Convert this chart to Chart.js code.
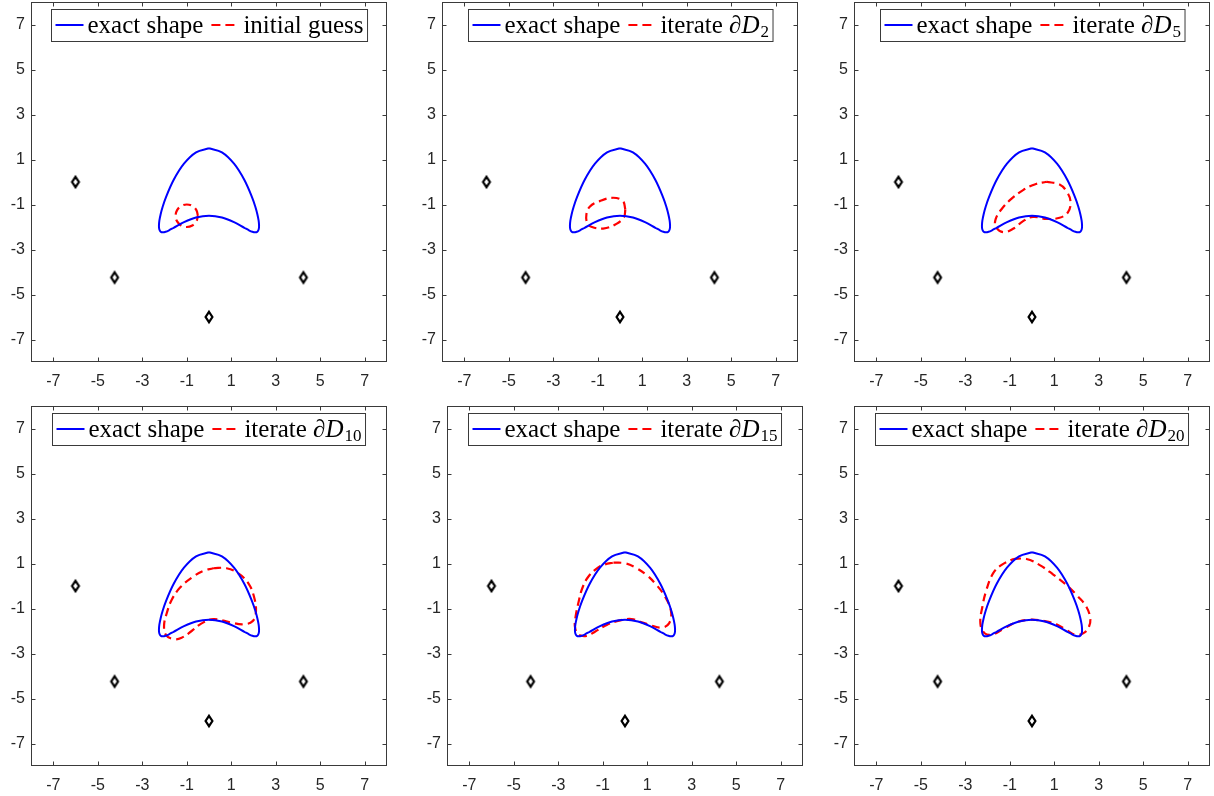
<!DOCTYPE html>
<html>
<head>
<meta charset="utf-8">
<script src="https://cdn.jsdelivr.net/npm/chart.js@4.4.0/dist/chart.umd.min.js"></script>
<style>
  html, body { margin: 0; padding: 0; background: #fff; }
  #wrap { position: relative; width: 1214px; height: 796px; overflow: hidden; background: #fff; }
  #wrap canvas { position: absolute; }
</style>
</head>
<body>
<div id="wrap"></div>
<script>
// tick labels (both axes)
const tickVals = [-7, -5, -3, -1, 1, 3, 5, 7];

// exact shape (blue)
const exactX = [0, 0.582, 1.125, 1.591, 1.949, 2.079, 2.173, 2.231, 2.25, 2.231, 2.173, 2.079, 1.949, 1.785, 1.591, 1.125, 0.582, 0,
  -0.582, -1.125, -1.591, -1.785, -1.949, -2.079, -2.173, -2.231, -2.25, -2.231, -2.173, -2.079, -1.949, -1.591, -1.125, -0.582, 0];
const exactY = [1.5, 1.318, 0.812, 0.086, -0.713, -1.090, -1.431, -1.721, -1.95, -2.113, -2.208, -2.238, -2.213, -2.141, -2.036, -1.787, -1.580, -1.5,
  -1.580, -1.787, -2.036, -2.141, -2.213, -2.238, -2.208, -2.113, -1.95, -1.721, -1.431, -1.090, -0.713, 0.086, 0.812, 1.318, 1.5];

// source points (black diamonds)
const sourceX = [-6, -4.243, 0, 4.243];
const sourceY = [0, -4.243, -6, -4.243];

// red dashed iterates
const guessX = [-0.5, -0.567, -0.75, -1, -1.25, -1.433, -1.5, -1.433, -1.25, -1, -0.75, -0.567];
const guessY = [-1.5, -1.25, -1.067, -1, -1.067, -1.25, -1.5, -1.75, -1.933, -2, -1.933, -1.75];

const d2X = [0.24, 0.13, -0.31, -0.91, -1.36, -1.51, -1.47, -1.29, -0.76, -0.16, 0.18];
const d2Y = [-1.22, -0.85, -0.70, -0.85, -1.10, -1.44, -1.84, -1.99, -2.07, -1.86, -1.55];

const d5X = [0.65, 1.24, 1.55, 1.73, 1.62, 1.24, 0.65, 0.04, -0.40, -0.85, -1.30, -1.63, -1.63, -1.38, -0.93, -0.40, 0.12];
const d5Y = [0.01, -0.11, -0.41, -0.85, -1.34, -1.59, -1.64, -1.55, -1.74, -2.08, -2.23, -1.99, -1.64, -1.22, -0.75, -0.36, -0.11];

const d10X = [0.19, 0.79, 1.32, 1.77, 2.02, 2.11, 1.96, 1.54, 0.94, 0.19, -0.33, -0.78, -1.23, -1.60, -1.93, -2.02, -1.90, -1.68, -1.30, -0.78, -0.26];
const d10Y = [0.79, 0.79, 0.56, 0.12, -0.47, -1.14, -1.56, -1.70, -1.61, -1.47, -1.66, -2.00, -2.30, -2.36, -2.18, -1.76, -1.21, -0.62, -0.07, 0.37, 0.67];

const d15X = [-0.52, 0, 0.45, 0.97, 1.42, 1.80, 2.07, 1.98, 1.65, 1.20, 0.75, 0.30, -0.22, -0.82, -1.35, -1.72, -2.10, -2.25, -2.22, -2.10, -1.92, -1.65, -1.20, -0.90];
const d15Y = [1.04, 1.01, 0.83, 0.49, 0.04, -0.47, -1.14, -1.66, -1.85, -1.76, -1.61, -1.47, -1.53, -1.73, -2.03, -2.22, -2.15, -1.81, -1.36, -0.77, -0.10, 0.41, 0.83, 0.96];

const d20X = [-0.85, -0.25, 0.35, 0.94, 1.55, 2.07, 2.44, 2.62, 2.56, 2.37, 2.00, 1.55, 1.10, 0.57, -0.10, -0.70, -1.30, -1.75, -2.13, -2.32, -2.23, -2.05, -1.75, -1.38];
const d20Y = [1.20, 1.20, 0.93, 0.52, 0.04, -0.47, -0.92, -1.44, -1.81, -2.06, -2.18, -1.96, -1.70, -1.56, -1.50, -1.61, -1.91, -2.15, -2.10, -1.66, -0.92, -0.18, 0.56, 0.93];

// legend text per panel
const iterNames = ['initial guess', 'iterate', 'iterate', 'iterate', 'iterate', 'iterate'];
const iterSubs = ['', '2', '5', '10', '15', '20'];

const AX_W = 30, AX_H = 34, PAD_T = 2, PAD_R = 3;
const FRAME_W = 356, FRAME_H = 360;

const toPts = (xs, ys) => xs.map((x, i) => ({ x: x, y: ys[i] }));
const closed = (xs, ys) => { const p = toPts(xs, ys); p.push(p[0]); return p; };

const diamond = (() => {
  const c = document.createElement('canvas');
  c.width = 14; c.height = 18;
  const g = c.getContext('2d');
  g.strokeStyle = '#000'; g.lineWidth = 2.2; g.lineJoin = 'miter';
  g.beginPath();
  g.moveTo(7, 3.8); g.lineTo(10.4, 9); g.lineTo(7, 14.2); g.lineTo(3.6, 9); g.closePath();
  g.stroke();
  return c;
})();

const framePlugin = {
  id: 'mframe',
  afterDatasetsDraw(chart) {
    const ctx = chart.ctx, a = chart.chartArea, xs = chart.scales.x, ys = chart.scales.y;
    const L = Math.round(a.left) + 0.5, R = Math.round(a.right) - 0.5;
    const T = Math.round(a.top) + 0.5, B = Math.round(a.bottom) - 0.5;
    ctx.save();
    ctx.strokeStyle = '#3a3a3a'; ctx.lineWidth = 1;
    ctx.strokeRect(L, T, R - L, B - T);
    ctx.beginPath();
    tickVals.forEach(v => {
      const px = Math.round(xs.getPixelForValue(v)) + 0.5;
      ctx.moveTo(px, B); ctx.lineTo(px, B - 4);
      ctx.moveTo(px, T); ctx.lineTo(px, T + 4);
      const py = Math.round(ys.getPixelForValue(v)) + 0.5;
      ctx.moveTo(L, py); ctx.lineTo(L + 4, py);
      ctx.moveTo(R, py); ctx.lineTo(R - 4, py);
    });
    ctx.stroke();
    ctx.restore();
  }
};

const legendPlugin = {
  id: 'mlegend',
  afterDraw(chart, args, opts) {
    const ctx = chart.ctx, a = chart.chartArea;
    const fMain = '25px "Liberation Serif"', fIt = 'italic 25px "Liberation Serif"', fSub = '17px "Liberation Serif"';
    ctx.save();
    ctx.font = fMain;
    const w1 = ctx.measureText('exact shape').width;
    let w2, wBase = 0, wIt = 0, wSub = 0;
    if (opts.sub) {
      wBase = ctx.measureText(opts.name + ' ').width;
      ctx.font = fIt; wIt = ctx.measureText('\u2202D').width;
      ctx.font = fSub; wSub = ctx.measureText(opts.sub).width;
      w2 = wBase + wIt + 1 + wSub;
    } else {
      w2 = ctx.measureText(opts.name).width;
    }
    const pad = 4, lineL = 28, gap = 4, mid = 8;
    const W = pad + lineL + gap + w1 + mid + lineL + gap + w2 + pad;
    const H = 32;
    const cx = (a.left + a.right) / 2;
    const x0 = Math.round(cx - W / 2) + 0.5, y0 = Math.round(a.top) + 7.5;
    ctx.fillStyle = '#fff';
    ctx.fillRect(x0, y0, W, H);
    ctx.strokeStyle = '#3a3a3a'; ctx.lineWidth = 1;
    ctx.strokeRect(x0, y0, W, H);
    const ym = y0 + 15.5, yb = y0 + 23;
    let x = x0 + pad;
    ctx.lineWidth = 2;
    ctx.strokeStyle = '#0000ff';
    ctx.beginPath(); ctx.moveTo(x, ym); ctx.lineTo(x + lineL, ym); ctx.stroke();
    x += lineL + gap;
    ctx.fillStyle = '#000'; ctx.font = fMain; ctx.textBaseline = 'alphabetic';
    ctx.fillText('exact shape', x, yb);
    x += w1 + mid;
    ctx.strokeStyle = '#ff0000'; ctx.setLineDash([9, 5]);
    ctx.beginPath(); ctx.moveTo(x, ym); ctx.lineTo(x + lineL, ym); ctx.stroke();
    ctx.setLineDash([]);
    x += lineL + gap;
    ctx.font = fMain;
    if (opts.sub) {
      ctx.fillText(opts.name + ' ', x, yb); x += wBase;
      ctx.font = fIt; ctx.fillText('\u2202D', x, yb); x += wIt + 1;
      ctx.font = fSub; ctx.fillText(opts.sub, x, yb + 4);
    } else {
      ctx.fillText(opts.name, x, yb);
    }
    ctx.restore();
  }
};

function axis(isX) {
  return {
    type: 'linear', min: -8, max: 8,
    afterBuildTicks: s => { s.ticks = tickVals.map(v => ({ value: v })); },
    afterFit: s => {
      if (isX) s.height = AX_H; else s.width = AX_W;
      s.paddingTop = 0; s.paddingBottom = 0; s.paddingLeft = 0; s.paddingRight = 0;
    },
    grid: { display: false, drawTicks: false },
    border: { display: false },
    ticks: {
      font: { family: 'Liberation Sans', size: 16 },
      color: '#262626',
      padding: isX ? 10 : 6,
      maxRotation: 0, autoSkip: false,
      callback: v => String(v)
    }
  };
}

function makePanel(frameLeft, frameTop, xs, ys, name, sub) {
  const cv = document.createElement('canvas');
  const w = AX_W + FRAME_W + PAD_R, h = PAD_T + FRAME_H + AX_H;
  cv.width = w; cv.height = h;
  cv.style.left = (frameLeft - AX_W) + 'px';
  cv.style.top = (frameTop - PAD_T) + 'px';
  document.getElementById('wrap').appendChild(cv);
  new Chart(cv, {
    type: 'scatter',
    data: {
      datasets: [
        { data: closed(exactX, exactY), showLine: true, borderColor: '#0000ff', borderWidth: 2,
          pointRadius: 0, tension: 0.35, fill: false },
        { data: closed(xs, ys), showLine: true, borderColor: '#ff0000', borderWidth: 2.2,
          borderDash: [8, 5], pointRadius: 0, tension: 0.4, fill: false },
        { data: toPts(sourceX, sourceY), showLine: false, pointStyle: diamond, pointRadius: 6,
          borderColor: '#000', backgroundColor: 'rgba(0,0,0,0)' }
      ]
    },
    options: {
      responsive: false, animation: false, events: [],
      layout: { autoPadding: false, padding: { top: PAD_T, right: PAD_R, left: 0, bottom: 0 } },
      scales: { x: axis(true), y: axis(false) },
      plugins: { legend: { display: false }, tooltip: { enabled: false }, mlegend: { name: name, sub: sub } }
    },
    plugins: [framePlugin, legendPlugin]
  });
}

const iterXs = [guessX, d2X, d5X, d10X, d15X, d20X];
const iterYs = [guessY, d2Y, d5Y, d10Y, d15Y, d20Y];
const lefts = [31, 442, 854, 31, 447, 854];
const tops = [2, 2, 2, 406, 406, 406];

for (let i = 0; i < 6; i++) {
  makePanel(lefts[i], tops[i], iterXs[i], iterYs[i], iterNames[i], iterSubs[i]);
}
</script>
</body>
</html>
